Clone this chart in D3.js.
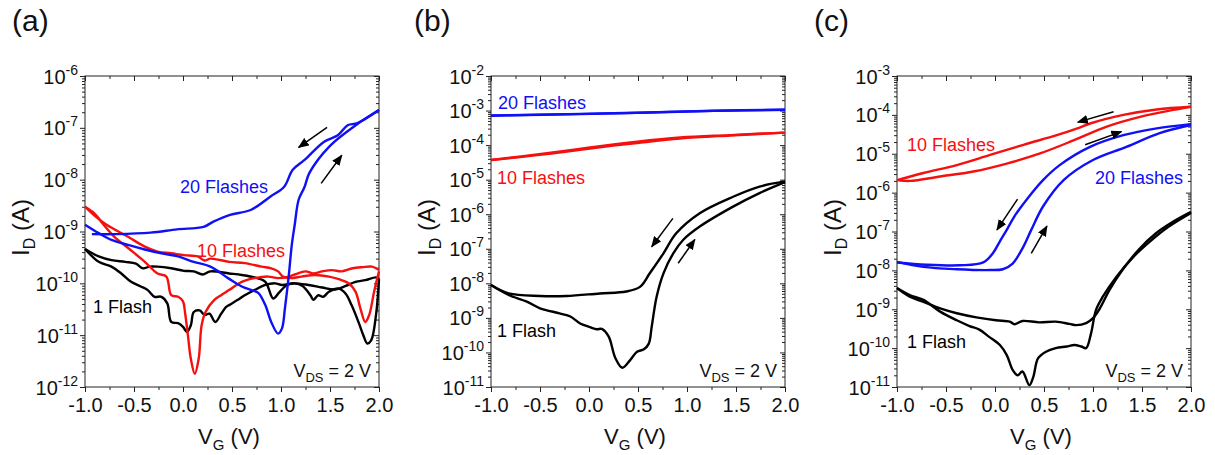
<!DOCTYPE html>
<html>
<head>
<meta charset="utf-8">
<script src="https://cdn.jsdelivr.net/npm/d3@7"></script>
<style>
    body { margin: 0; background: #fff; }
    svg { font-family: "Liberation Sans", Arial, sans-serif; }
</style>
</head>
<body>
<svg id="chart" width="1215" height="455"></svg>
<script>
// ---- data: [V_G (V), I_D (A)] ----
const xTicks = [-1.0, -0.5, 0.0, 0.5, 1.0, 1.5, 2.0]
const xMinorTicks = [-0.75, -0.25, 0.25, 0.75, 1.25, 1.75]

// (a)
const aBlueFwd = [[-1.0,1.35e-9],[-0.86,9.3e-10],[-0.73,6.9e-10],[-0.56,5.5e-10],[-0.39,4.5e-10],[-0.22,3.8e-10],[-0.05,3.3e-10],[0.11,2.6e-10],[0.28,2.1e-10],[0.46,1.26e-10],[0.60,8.7e-11],[0.70,7.4e-11],[0.77,6.5e-11],[0.84,3.8e-11],[0.90,1.8e-11],[0.97,1.07e-11],[1.01,1.35e-11],[1.04,3.3e-11],[1.08,1.45e-10],[1.11,5.5e-10],[1.14,1.35e-9],[1.18,4.1e-9],[1.24,7.2e-9],[1.29,1.35e-8],[1.50,4.5e-8],[1.77,1.15e-7],[2.0,2.2e-7]]
const aBlueRev = [[-0.93,8.9e-10],[-0.68,8.9e-10],[-0.33,9.5e-10],[-0.06,1.1e-9],[0.21,1.23e-9],[0.31,1.55e-9],[0.48,2.1e-9],[0.69,2.6e-9],[0.89,4.7e-9],[1.03,7.2e-9],[1.12,1.55e-8],[1.24,2.4e-8],[1.44,5.4e-8],[1.58,7.2e-8],[1.68,1.12e-7],[1.78,1.23e-7],[2.0,2.2e-7]]
const aRedFwd = [[-1.0,3.0e-9],[-0.9,2.2e-9],[-0.81,1.35e-9],[-0.70,7.9e-10],[-0.56,4.8e-10],[-0.39,2.6e-10],[-0.26,1.55e-10],[-0.17,1.35e-10],[-0.12,5.9e-11],[-0.05,5.5e-11],[0.0,4.5e-11],[0.02,2.8e-11],[0.05,1.0e-11],[0.08,3.5e-12],[0.12,1.8e-12],[0.16,3.5e-12],[0.19,1.55e-11],[0.23,2.8e-11],[0.32,4.8e-11],[0.39,5.9e-11],[0.47,7.4e-11],[0.60,1.07e-10],[0.73,1.26e-10],[0.87,1.35e-10],[0.97,1.26e-10],[1.08,1.35e-10],[1.14,1.48e-10],[1.25,1.7e-10],[1.33,1.55e-10],[1.42,1.7e-10],[1.52,1.8e-10],[1.62,1.7e-10],[1.73,1.95e-10],[1.83,2.05e-10],[1.93,2.1e-10],[2.0,1.8e-10]]
const aRedRev = [[-1.0,3.0e-9],[-0.9,2.0e-9],[-0.78,1.35e-9],[-0.56,7.9e-10],[-0.39,5.1e-10],[-0.26,4.1e-10],[-0.12,3.8e-10],[0.01,3.5e-10],[0.15,3.3e-10],[0.22,2.75e-10],[0.28,3.0e-10],[0.47,2.6e-10],[0.63,2.45e-10],[0.80,2.1e-10],[0.90,1.95e-10],[0.97,1.7e-10],[1.02,1.35e-10],[1.10,1.26e-10],[1.21,1.35e-10],[1.35,1.45e-10],[1.49,1.35e-10],[1.59,1.2e-10],[1.69,1.0e-10],[1.76,6.9e-11],[1.81,3.3e-11],[1.86,1.8e-11],[1.90,2.45e-11],[1.95,6.9e-11],[2.0,1.7e-10]]
const aBlackFwd = [[-1.0,4.6e-10],[-0.86,2.6e-10],[-0.73,2.1e-10],[-0.63,1.55e-10],[-0.53,1.07e-10],[-0.43,8.7e-11],[-0.36,7.4e-11],[-0.29,5.5e-11],[-0.22,5.5e-11],[-0.16,4.1e-11],[-0.12,1.8e-11],[-0.05,1.7e-11],[0.0,1.45e-11],[0.04,1.15e-11],[0.08,1.55e-11],[0.11,2.8e-11],[0.17,3.0e-11],[0.22,2.45e-11],[0.27,2.6e-11],[0.33,1.8e-11],[0.39,2.6e-11],[0.44,3.5e-11],[0.47,3.8e-11],[0.56,4.8e-11],[0.63,5.9e-11],[0.73,7.4e-11],[0.84,9.3e-11],[0.94,1.0e-10],[1.01,9.3e-11],[1.14,1.0e-10],[1.28,9.3e-11],[1.42,8.3e-11],[1.55,7.6e-11],[1.66,8.9e-11],[1.76,1.07e-10],[1.86,1.15e-10],[1.97,1.3e-10],[2.0,1.2e-10]]
const aBlackRev = [[-1.0,4.6e-10],[-0.86,3.3e-10],[-0.73,2.8e-10],[-0.59,2.6e-10],[-0.48,2.4e-10],[-0.41,1.95e-10],[-0.34,2.1e-10],[-0.26,2.1e-10],[-0.12,1.95e-10],[0.01,1.74e-10],[0.11,1.7e-10],[0.20,1.48e-10],[0.28,1.7e-10],[0.47,1.55e-10],[0.60,1.45e-10],[0.73,1.3e-10],[0.84,1.07e-10],[0.92,5.1e-11],[0.98,6.6e-11],[1.06,9.3e-11],[1.14,1.0e-10],[1.22,8.9e-11],[1.30,5.9e-11],[1.33,4.8e-11],[1.38,5.9e-11],[1.43,5.5e-11],[1.49,6.9e-11],[1.59,7.9e-11],[1.66,6.3e-11],[1.72,3.8e-11],[1.79,1.8e-11],[1.84,1.0e-11],[1.88,6.9e-12],[1.92,7.9e-12],[1.97,2.5e-11],[2.0,1.2e-10]]

// (b)
const bBlueFwd = [[-1.0,7.1e-4],[-0.09,7.9e-4],[0.59,8.7e-4],[1.27,9.8e-4],[2.0,1.05e-3]]
const bBlueRev = [[-1.0,7.2e-4],[-0.09,8.0e-4],[0.59,8.8e-4],[1.27,9.9e-4],[2.0,1.06e-3]]
const bRedFwd = [[-1.0,3.7e-5],[-0.43,5.5e-5],[0.01,8.0e-5],[0.49,1.15e-4],[0.93,1.55e-4],[1.44,1.9e-4],[2.0,2.3e-4]]
const bRedRev = [[-1.0,3.7e-5],[-0.43,5.8e-5],[0.01,8.5e-5],[0.49,1.26e-4],[0.93,1.66e-4],[1.44,1.95e-4],[2.0,2.3e-4]]
const bBlackFwd = [[-1.0,8.9e-9],[-0.82,4.6e-9],[-0.64,3.0e-9],[-0.5,1.9e-9],[-0.30,1.35e-9],[-0.19,1.1e-9],[-0.09,6.9e-10],[0.01,5.4e-10],[0.08,4.7e-10],[0.13,4.8e-10],[0.20,2.9e-10],[0.27,6.8e-11],[0.34,3.6e-11],[0.42,6.0e-11],[0.49,1.05e-10],[0.56,1.23e-10],[0.61,1.8e-10],[0.64,5.6e-10],[0.69,4.1e-9],[0.76,1.95e-8],[0.86,7.4e-8],[0.96,1.8e-7],[1.13,4.4e-7],[1.47,1.66e-6],[1.74,4.1e-6],[2.0,8.5e-6]]
const bBlackRev = [[-1.0,8.9e-9],[-0.82,5.1e-9],[-0.5,4.3e-9],[-0.23,4.3e-9],[0.11,5.1e-9],[0.38,5.8e-9],[0.52,7.9e-9],[0.62,1.95e-8],[0.76,7.4e-8],[0.89,2.8e-7],[1.13,1.07e-6],[1.47,3.2e-6],[1.74,6.3e-6],[2.0,8.9e-6]]

// (c)
const cRedFwd = [[-1.0,2.1e-6],[-0.87,2.0e-6],[-0.56,2.6e-6],[-0.22,3.5e-6],[0.12,5.6e-6],[0.46,1.02e-5],[0.80,2.2e-5],[1.14,5.0e-5],[1.48,8.9e-5],[1.82,1.35e-4],[2.0,1.62e-4]]
const cRedRev = [[-1.0,2.1e-6],[-0.73,3.2e-6],[-0.39,5.1e-6],[-0.05,9.3e-6],[0.29,1.7e-5],[0.63,3.0e-5],[0.84,4.5e-5],[0.97,6.0e-5],[1.31,1.0e-4],[1.65,1.38e-4],[2.0,1.62e-4]]
const cBlueFwd = [[-1.0,1.66e-8],[-0.73,1.23e-8],[-0.39,1.07e-8],[-0.05,1.02e-8],[0.08,1.07e-8],[0.18,1.5e-8],[0.29,4.1e-8],[0.37,1.1e-7],[0.49,4.4e-7],[0.70,2.1e-6],[1.0,6.9e-6],[1.34,1.5e-5],[1.68,3.4e-5],[2.0,5.5e-5]]
const cBlueRev = [[-1.0,1.6e-8],[-0.70,1.4e-8],[-0.36,1.35e-8],[-0.12,1.6e-8],[-0.02,2.8e-8],[0.05,5.6e-8],[0.12,1.1e-7],[0.20,2.5e-7],[0.32,6.5e-7],[0.49,2.1e-6],[0.66,5.1e-6],[0.97,1.5e-5],[1.31,3.0e-5],[1.65,4.5e-5],[2.0,5.8e-5]]
const cBlackFwd = [[-1.0,3.5e-9],[-0.87,2.3e-9],[-0.73,1.74e-9],[-0.56,8.7e-10],[-0.39,5.2e-10],[-0.26,3.7e-10],[-0.16,3.0e-10],[-0.06,1.95e-10],[0.05,1.2e-10],[0.12,6.6e-11],[0.18,2.75e-11],[0.23,2.0e-11],[0.28,2.5e-11],[0.35,1.12e-11],[0.39,1.8e-11],[0.44,5.5e-11],[0.52,8.1e-11],[0.62,1.0e-10],[0.73,1.1e-10],[0.81,1.2e-10],[0.88,1.1e-10],[0.93,1.0e-10],[0.98,2.4e-10],[1.03,9.5e-10],[1.10,2.1e-9],[1.24,6.9e-9],[1.41,2.2e-8],[1.58,5.5e-8],[1.77,1.32e-7],[2.0,3.0e-7]]
const cBlackRev = [[-1.0,3.5e-9],[-0.87,2.1e-9],[-0.73,1.55e-9],[-0.56,1.05e-9],[-0.39,7.9e-10],[-0.19,6.2e-10],[0.01,5.2e-10],[0.15,4.8e-10],[0.20,4.1e-10],[0.28,5.0e-10],[0.45,4.6e-10],[0.62,4.8e-10],[0.76,4.2e-10],[0.83,3.9e-10],[0.93,4.4e-10],[1.0,5.9e-10],[1.07,1.05e-9],[1.17,3.2e-9],[1.30,1.02e-8],[1.47,3.5e-8],[1.64,8.9e-8],[1.82,1.8e-7],[2.0,3.2e-7]]

// sweep-direction arrows: [V from, I from, V to, I to]
const aArrows = [[1.47,1.02e-7,1.18,4.2e-8],[1.41,8.5e-9,1.62,2.95e-8]]
const bArrows = [[0.856,7.6e-7,0.64,1.15e-7],[0.91,3.8e-8,1.08,1.86e-7]]
const cArrows = [[1.21,1.2e-4,0.845,6.5e-5],[0.92,1.7e-5,1.29,3.7e-5],[0.23,6.8e-7,0.02,1.1e-7],[0.37,2.75e-8,0.53,1.38e-7]]

const BLUE = "#1010f5", RED = "#f51010", BLACK = "#000"
const W = 294, H = 311, TOP = 76

const panels = [
    { tag: "(a)", tagX: 12, left: 85, yDomain: [1e-12, 1e-6],
      curves: [[aBlackFwd, BLACK], [aBlackRev, BLACK], [aRedFwd, RED], [aRedRev, RED], [aBlueFwd, BLUE], [aBlueRev, BLUE]],
      arrows: aArrows,
      notes: [["20 Flashes", BLUE, 95, 117], ["10 Flashes", RED, 112, 180.5], ["1 Flash", BLACK, 8, 237]] },
    { tag: "(b)", tagX: 414, left: 491, yDomain: [1e-11, 1e-2],
      curves: [[bBlackFwd, BLACK], [bBlackRev, BLACK], [bRedFwd, RED], [bRedRev, RED], [bBlueFwd, BLUE], [bBlueRev, BLUE]],
      arrows: bArrows,
      notes: [["20 Flashes", BLUE, 7, 32.5], ["10 Flashes", RED, 6, 108], ["1 Flash", BLACK, 6, 261]] },
    { tag: "(c)", tagX: 814, left: 897, yDomain: [1e-11, 1e-3],
      curves: [[cBlackFwd, BLACK], [cBlackRev, BLACK], [cBlueFwd, BLUE], [cBlueRev, BLUE], [cRedFwd, RED], [cRedRev, RED]],
      arrows: cArrows,
      notes: [["10 Flashes", RED, 10, 74.5], ["20 Flashes", BLUE, 198, 108], ["1 Flash", BLACK, 10, 272]] }
]

let svg = d3.select("#chart")

svg.append("defs").append("marker")
    .attr("id", "head")
    .attr("markerUnits", "userSpaceOnUse")
    .attr("markerWidth", 11).attr("markerHeight", 9)
    .attr("refX", 10).attr("refY", 4.5)
    .attr("orient", "auto")
    .append("path")
    .attr("d", "M0,0 L11,4.5 L0,9 Z")
    .attr("fill", "#000")

panels.forEach(drawPanel)

function drawPanel(p) {
    let x = d3.scaleLinear().domain([-1, 2]).range([0, W])
    let y = d3.scaleLog().domain(p.yDomain).range([H, 0])
    let g = svg.append("g").attr("transform", `translate(${p.left},${TOP})`)

    let lo = Math.round(Math.log10(p.yDomain[0])), hi = Math.round(Math.log10(p.yDomain[1]))
    let decades = d3.range(lo, hi + 1).map(e => Math.pow(10, e))
    let minors = []
    d3.range(lo, hi).forEach(e => d3.range(2, 10).forEach(m => minors.push(m * Math.pow(10, e))))

    // axes: bottom/left ticks out, top/right ticks in
    let axes = [
        d3.axisBottom(x).tickValues(xTicks).tickSize(5).tickFormat(d => d.toFixed(1)),
        d3.axisBottom(x).tickValues(xMinorTicks).tickSize(3).tickFormat(""),
        d3.axisTop(x).tickValues(xTicks).tickSize(-5).tickFormat(""),
        d3.axisTop(x).tickValues(xMinorTicks).tickSize(-3).tickFormat(""),
        d3.axisLeft(y).tickValues(decades).tickSize(5).tickFormat(""),
        d3.axisLeft(y).tickValues(minors).tickSize(3).tickFormat(""),
        d3.axisRight(y).tickValues(decades).tickSize(-5).tickFormat(""),
        d3.axisRight(y).tickValues(minors).tickSize(-3).tickFormat("")
    ]
    let shift = [[0, H], [0, H], [0, 0], [0, 0], [0, 0], [0, 0], [W, 0], [W, 0]]
    axes.forEach((ax, i) => {
        let a = g.append("g")
            .attr("transform", `translate(${shift[i][0]},${shift[i][1]})`)
            .call(ax.tickSizeOuter(0))
        a.select(".domain").remove()
        a.selectAll("line").attr("stroke", "#222").attr("stroke-width", 1)
        a.selectAll("text")
            .attr("y", 24.5).attr("dy", 0)
            .style("font-size", "20px")
            .style("font-family", "Liberation Sans, Arial, sans-serif")
            .attr("fill", "#111")
    })

    // decade labels 10^n
    decades.forEach(v => {
        let t = g.append("text")
            .attr("x", -7).attr("y", y(v) + 7.5)
            .attr("text-anchor", "end")
            .attr("fill", "#111")
            .style("font-size", "20px")
        t.append("tspan").text("10")
        t.append("tspan").attr("dy", -9).style("font-size", "14px").text(Math.round(Math.log10(v)))
    })

    g.append("rect")
        .attr("width", W).attr("height", H)
        .attr("fill", "none").attr("stroke", "#222").attr("stroke-width", 1)

    // curves
    let line = d3.line()
        .x(d => x(d[0]))
        .y(d => y(d[1]))
        .curve(d3.curveCatmullRom.alpha(0.5))
    g.selectAll(".curve")
        .data(p.curves)
        .enter()
        .append("path")
        .attr("class", "curve")
        .attr("d", d => line(d[0]))
        .attr("fill", "none")
        .attr("stroke", d => d[1])
        .attr("stroke-width", 2.4)
        .attr("stroke-linejoin", "round")

    g.selectAll(".arrow")
        .data(p.arrows)
        .enter()
        .append("line")
        .attr("class", "arrow")
        .attr("x1", d => x(d[0])).attr("y1", d => y(d[1]))
        .attr("x2", d => x(d[2])).attr("y2", d => y(d[3]))
        .attr("stroke", "#000").attr("stroke-width", 1.5)
        .attr("marker-end", "url(#head)")

    p.notes.forEach(n => {
        g.append("text")
            .attr("x", n[2]).attr("y", n[3])
            .attr("fill", n[1])
            .style("font-size", "18px")
            .text(n[0])
    })

    let vds = g.append("text")
        .attr("x", 286).attr("y", 300.5)
        .attr("text-anchor", "end")
        .attr("fill", "#111")
        .style("font-size", "18px")
    vds.append("tspan").text("V")
    vds.append("tspan").attr("dy", 5).style("font-size", "13px").text("DS")
    vds.append("tspan").attr("dy", -5).text(" = 2 V")

    // axis titles
    let xt = g.append("text")
        .attr("x", W / 2 - 3).attr("y", 368)
        .attr("text-anchor", "middle")
        .attr("fill", "#111")
        .style("font-size", "22px")
    xt.append("tspan").text("V")
    xt.append("tspan").attr("dy", 6).style("font-size", "15px").text("G")
    xt.append("tspan").attr("dy", -6).text(" (V)")

    let yt = g.append("text")
        .attr("transform", `translate(-56,${H / 2 - 4}) rotate(-90)`)
        .attr("text-anchor", "middle")
        .attr("fill", "#111")
        .style("font-size", "24px")
    yt.append("tspan").text("I")
    yt.append("tspan").attr("dy", 6).style("font-size", "16px").text("D")
    yt.append("tspan").attr("dy", -6).text(" (A)")

    svg.append("text")
        .attr("x", p.tagX).attr("y", 31)
        .attr("fill", "#111")
        .style("font-size", "30px")
        .text(p.tag)
}
</script>
</body>
</html>
